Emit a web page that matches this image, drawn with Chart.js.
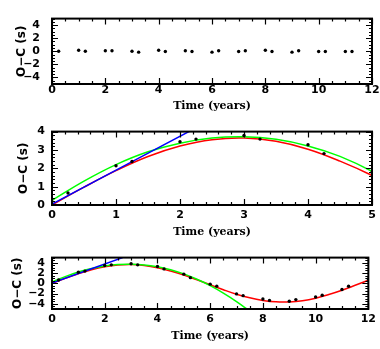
<!DOCTYPE html>
<html>
<head>
<meta charset="utf-8">
<script src="https://cdn.jsdelivr.net/npm/chart.js@4"></script>
<style>
  html, body { margin: 0; padding: 0; background: #fff; }
  #wrap { position: relative; width: 380px; height: 349px; }
  canvas { position: absolute; left: 0; }
</style>
</head>
<body>
<div id="wrap">
  <canvas id="c1" width="380" height="118" style="top:0px"></canvas>
  <canvas id="c2" width="380" height="126" style="top:118px"></canvas>
  <canvas id="c3" width="380" height="105" style="top:244px"></canvas>
</div>
<script>
// 観測時刻 (年)
const obsTime = [0.25, 1, 1.25, 2, 2.25, 3, 3.25, 4, 4.25, 5, 5.25, 6, 6.25, 7, 7.25, 8, 8.25, 9, 9.25, 10, 10.25, 11, 11.25, 12];
// 上段: 残差 O-C (s)
const residOC = [0.0, 0.17, 0.0, 0.09, 0.09, 0.0, -0.13, 0.17, -0.04, 0.09, -0.04, -0.13, 0.09, -0.04, 0.09, 0.17, -0.04, -0.13, 0.09, -0.04, -0.04, -0.04, -0.04, -0.13];
// 中段・下段: O-C (s)
const obsOC = [0.65, 2.14, 2.37, 3.45, 3.59, 3.79, 3.59, 3.28, 2.80, 1.78, 1.10, -0.17, -0.55, -2.06, -2.40, -3.06, -3.33, -3.50, -3.17, -2.67, -2.33, -1.22, -0.56, 0.83];

// 赤: 正弦フィット
const sineTime = [0, 0.5, 1, 1.5, 2, 2.5, 3, 3.5, 4, 4.5, 5, 5.5, 6, 6.5, 7, 7.5, 8, 8.5, 9, 9.5, 10, 10.5, 11, 11.5, 12];
const sineFit = [0, 0.97, 1.87, 2.64, 3.21, 3.56, 3.65, 3.47, 3.04, 2.39, 1.61, 0.68, -0.29, -1.25, -2.13, -2.83, -3.33, -3.61, -3.62, -3.38, -2.89, -2.18, -1.35, -0.39, 0.59];
// 緑: 二次フィット
const quadTime = [0, 0.5, 1, 1.5, 2, 2.5, 3, 3.5, 4, 4.5, 5, 5.5, 6, 6.5, 7, 7.5];
const quadFit = [0.25, 1.3, 2.2, 2.9, 3.37, 3.65, 3.72, 3.58, 3.22, 2.65, 1.83, 0.78, -0.45, -1.9, -3.55, -5.4];
// 青: 直線フィット
const linTime = [0, 2.68];
const linFit = [0.05, 5.0];

// 目盛りラベル
const xTicksFull = [0, 2, 4, 6, 8, 10, 12];
const xTicksZoom = [0, 1, 2, 3, 4, 5];
const yTicksResid = [-4, -2, 0, 2, 4];
const yTicksZoom = [0, 1, 2, 3, 4];
const yTicksFull = [-4, -2, 0, 2, 4];

const toXY = (xs, ys) => xs.map((x, i) => ({ x: x, y: ys[i] }));

// 枠と内向きの目盛り線 (四辺)
const framePlugin = {
    id: 'frame',
    afterDraw(chart, args, opts) {
        const { ctx, chartArea: a, scales: { x, y } } = chart;
        ctx.save();
        ctx.strokeStyle = '#000';
        ctx.lineWidth = 1.2;
        ctx.beginPath();
        const isMajor = (v, step) => Math.abs(v / step - Math.round(v / step)) < 1e-6;
        for (let v = x.min; v <= x.max + 1e-9; v += opts.xMinor) {
            const len = isMajor(v, opts.xMajor) ? 6 : 3;
            const px = Math.round(x.getPixelForValue(v)) + 0.5;
            ctx.moveTo(px, a.bottom); ctx.lineTo(px, a.bottom - len);
            ctx.moveTo(px, a.top); ctx.lineTo(px, a.top + len);
        }
        for (let v = y.min; v <= y.max + 1e-9; v += opts.yMinor) {
            const len = isMajor(v, opts.yMajor) ? 6 : 3;
            const py = Math.round(y.getPixelForValue(v)) + 0.5;
            ctx.moveTo(a.left, py); ctx.lineTo(a.left + len, py);
            ctx.moveTo(a.right, py); ctx.lineTo(a.right - len, py);
        }
        ctx.stroke();
        ctx.lineWidth = 2;
        ctx.strokeRect(a.left, a.top, a.right - a.left, a.bottom - a.top);
        ctx.restore();
    }
};

const tickFont = { family: 'DejaVu Sans', weight: 'bold', size: 11 };
const xTitleFont = { family: 'DejaVu Serif', weight: 'bold', size: 11 };
const yTitleFont = { family: 'DejaVu Sans', weight: 'bold', size: 12 };
const minusFmt = v => String(v).replace('-', '\u2212');

function makeChart(id, p) {
    new Chart(document.getElementById(id), {
        type: 'scatter',
        data: { datasets: p.datasets },
        options: {
            responsive: false,
            animation: false,
            devicePixelRatio: 1,
            layout: { padding: { top: p.padTop, right: 8, left: 0, bottom: 0 } },
            plugins: {
                legend: { display: false },
                tooltip: { enabled: false },
                frame: p.frame
            },
            scales: {
                x: {
                    type: 'linear',
                    min: p.xMin, max: p.xMax,
                    grid: { display: false, drawTicks: false },
                    border: { display: false },
                    afterBuildTicks: s => { s.ticks = p.xTicks.map(v => ({ value: v })); },
                    afterFit: s => { s.height = p.xHeight; },
                    ticks: { font: tickFont, color: '#000', padding: p.xPad, maxRotation: 0, autoSkip: false, callback: minusFmt },
                    title: { display: true, text: 'Time (years)', font: xTitleFont, color: '#000', padding: { top: 0, bottom: p.xTitlePad } }
                },
                y: {
                    type: 'linear',
                    min: p.yMin, max: p.yMax,
                    grid: { display: false, drawTicks: false },
                    border: { display: false },
                    afterBuildTicks: s => { s.ticks = p.yTicks.map(v => ({ value: v })); },
                    afterFit: s => { s.width = 52; },
                    ticks: { font: tickFont, color: '#000', padding: p.yPad, autoSkip: false, callback: minusFmt },
                    title: { display: true, text: 'O\u2212C (s)', font: yTitleFont, color: '#000', padding: { top: p.yTitlePad, bottom: 0 } }
                }
            }
        },
        plugins: [framePlugin]
    });
}

const pointSet = ys => ({
    data: toXY(obsTime, ys),
    showLine: false,
    pointRadius: 1.7,
    pointBackgroundColor: '#000',
    pointBorderWidth: 0
});
const curveSet = (xs, ys, color) => ({
    data: toXY(xs, ys),
    showLine: true,
    borderColor: color,
    borderWidth: 1.5,
    pointRadius: 0,
    tension: 0.4
});

makeChart('c1', {
    datasets: [pointSet(residOC)],
    xMin: 0, xMax: 12, yMin: -5, yMax: 5,
    xTicks: xTicksFull, yTicks: yTicksResid,
    padTop: 6, xHeight: 34, xPad: 0, xTitlePad: 5,
    yPad: 12, yTitlePad: 15,
    frame: { xMajor: 2, xMinor: 0.5, yMajor: 2, yMinor: 0.5 }
});

makeChart('c2', {
    datasets: [
        pointSet(obsOC),
        curveSet(linTime, linFit, '#0000ff'),
        curveSet(quadTime, quadFit, '#00ff00'),
        curveSet(sineTime, sineFit, '#ff0000')
    ],
    xMin: 0, xMax: 5, yMin: 0, yMax: 4,
    xTicks: xTicksZoom, yTicks: yTicksZoom,
    padTop: 7, xHeight: 39, xPad: 4, xTitlePad: 5,
    yPad: 7, yTitlePad: 17,
    frame: { xMajor: 1, xMinor: 0.2, yMajor: 1, yMinor: 0.2 }
});

makeChart('c3', {
    datasets: [
        pointSet(obsOC),
        curveSet(linTime, linFit, '#0000ff'),
        curveSet(quadTime, quadFit, '#00ff00'),
        curveSet(sineTime, sineFit, '#ff0000')
    ],
    xMin: 0, xMax: 12, yMin: -5, yMax: 5,
    xTicks: xTicksFull, yTicks: yTicksFull,
    padTop: 6, xHeight: 40, xPad: 4, xTitlePad: 6,
    yPad: 7, yTitlePad: 11,
    frame: { xMajor: 2, xMinor: 0.5, yMajor: 2, yMinor: 0.5 }
});
</script>
</body>
</html>
